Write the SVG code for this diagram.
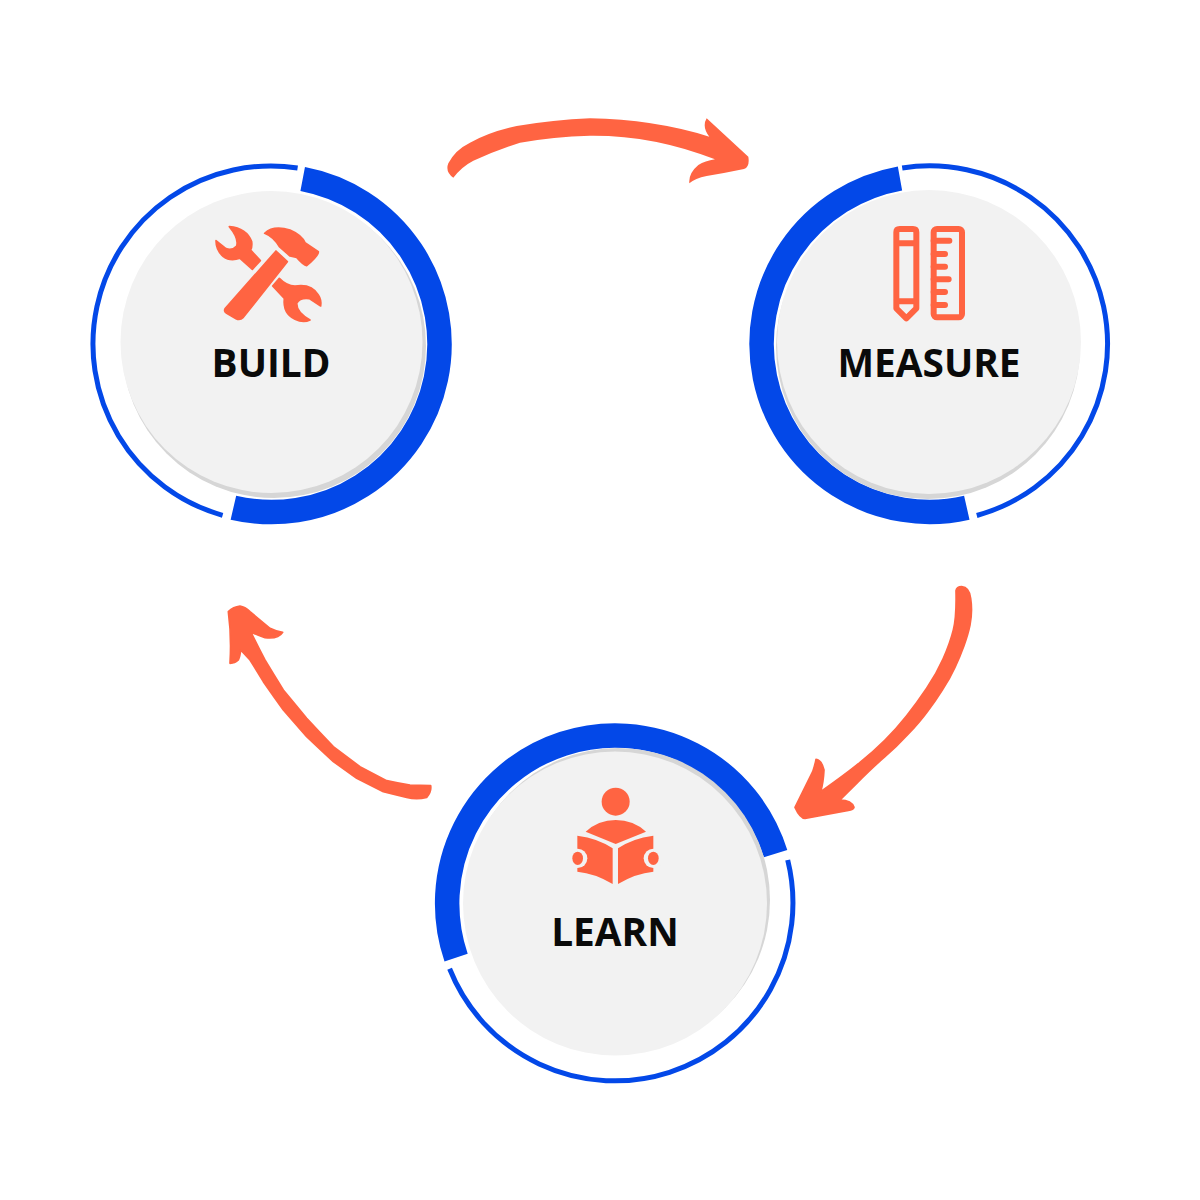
<svg xmlns="http://www.w3.org/2000/svg" width="1200" height="1200" viewBox="0 0 1200 1200">
<defs>
<style>
.thick{fill:none;stroke:#0348e8;stroke-width:24.5}
.thin{fill:none;stroke:#0348e8;stroke-width:5}
.disc{fill:#f2f2f2}
.shade{fill:#d6d6d6}
.ic{fill:#ff6442}
.fat{stroke:#ff6442;stroke-width:5;stroke-linejoin:round}
.il{fill:none;stroke:#ff6442;stroke-width:18;stroke-linejoin:round;stroke-linecap:round}
.lb{font-family:"Open Sans","Noto Sans",sans-serif;font-weight:700;font-size:38.8px;fill:#0a0a0a;text-anchor:middle}
</style>
</defs>
<rect width="1200" height="1200" fill="#fff"/>
<g id="connectors">
<path class="ic" transform="translate(440 100) scale(.33333)" d="M40 233Q15 215 25 190Q45 150 90 128Q150 95 230 78Q340 60 450 55Q640 58 808 110Q785 80 800 55L925 170Q930 200 912 207Q860 218 800 228Q765 235 748 250Q745 220 775 195Q795 183 825 178Q640 105 450 107Q340 110 240 128Q170 150 100 182Q65 200 40 233Z"/>
<path class="ic fat" transform="translate(780 570) scale(.33333)" d="M528 62Q530 50 545 50Q568 52 572 85Q578 125 570 165Q565 190 552 227Q540 260 525 292Q510 325 487 360Q465 395 442 425Q420 455 385 492Q350 530 315 560Q280 590 230 640L180 690Q215 690 222 712Q220 720 205 721L75 745Q60 745 45 712L98 605Q105 585 108 568Q125 570 132 600Q130 640 122 665Q200 610 240 577Q280 545 315 510Q350 475 380 437Q410 400 440 355Q470 310 490 265Q510 220 520 180Q530 140 528 62Z"/>
<path class="ic fat" transform="translate(210 590) scale(.33333)" d="M55 65Q70 50 90 48Q105 50 120 65L180 115Q200 125 218 127Q205 148 165 143Q140 135 122 125Q145 172 165 210Q192 255 220 300Q255 342 290 385Q330 428 370 470Q410 500 450 530Q490 551 530 572Q565 580 600 585L662 587Q665 605 650 622Q620 630 590 622Q555 614 520 605Q480 585 440 565Q405 540 370 515Q330 478 290 440Q255 400 220 360Q190 318 160 275Q138 238 120 210L92 180Q90 200 85 210Q75 220 60 220Q65 140 55 65Z"/>
</g>
<g id="build">
<path class="thick" d="M302.7 179A168 168 0 1 1 233.4 507.7"/>
<path class="thin" d="M222.6 515.3A178 178 0 0 1 297.6 168"/>
<circle class="shade" cx="274" cy="346" r="152"/>
<circle class="disc" cx="271.5" cy="342" r="151"/>
<g transform="translate(190 200) scale(.33333)">
<path class="ic fat" d="M106 325L258 153L292 185L160 352Q150 362 138 356L110 340Q100 333 106 325Z"/>
<path class="ic fat" d="M224 100Q250 75 300 90Q335 105 345 128L385 155Q388 165 350 197Q340 195 320 172L300 168L268 140Q250 110 224 100Z"/>
<path class="ic fat" d="M118 80Q170 85 185 125Q187 140 182 150L211 182L187 208L150 175Q120 185 100 170Q78 150 78 122L108 146Q128 152 140 138Q147 115 118 80Z"/>
<path class="ic fat" d="M268 235Q290 258 315 258Q365 250 385 285Q395 300 392 318L358 296Q330 292 320 310Q320 338 360 360Q340 370 315 358Q278 340 283 295L248 258Z"/>
</g>
<text class="lb" x="271" y="377">BUILD</text>
</g>
<g id="measure">
<path class="thick" d="M900 178.5A168 168 0 1 0 966.8 507.7"/>
<path class="thin" d="M976.8 515.5A178 178 0 0 0 902.2 168"/>
<circle class="shade" cx="928" cy="347" r="152"/>
<circle class="disc" cx="929" cy="342" r="152"/>
<g transform="translate(830 200) scale(.33333)">
<path class="il" d="M209 87H249Q259 87 259 97V325L229 355L199 325V97Q199 87 209 87ZM199 130H259M199 304H259"/>
<rect class="il" x="311" y="87" width="85" height="265" rx="10"/>
<path class="il" d="M311 122H358M311 162H345M311 200H345M311 238H356M311 276H345M311 315H345"/>
</g>
<text class="lb" x="929" y="377">MEASURE</text>
</g>
<g id="learn">
<path class="thick" d="M456.1 957.6A168 168 0 1 1 775.6 853.7"/>
<path class="thin" d="M787.7 860A178 178 0 0 1 449.6 968.8"/>
<circle class="shade" cx="618" cy="900" r="152"/>
<circle class="disc" cx="615" cy="903.5" r="152"/>
<g transform="translate(540 770) scale(.33333)">
<circle class="ic" cx="227" cy="95" r="42"/>
<path class="ic" d="M137 185Q175 150 227 150Q280 150 318 185L227 222Z"/>
<path class="ic" d="M112 197Q175 205 218 235V342Q165 310 112 305Z"/>
<path class="ic" d="M340 197Q277 205 234 235V342Q287 310 340 305Z"/>
<circle class="disc" cx="113" cy="265" r="29"/>
<circle class="disc" cx="340" cy="265" r="29"/>
<ellipse class="ic" cx="113" cy="265" rx="16" ry="20"/>
<ellipse class="ic" cx="340" cy="265" rx="16" ry="20"/>
</g>
<text class="lb" x="615" y="945.5">LEARN</text>
</g>
</svg>
